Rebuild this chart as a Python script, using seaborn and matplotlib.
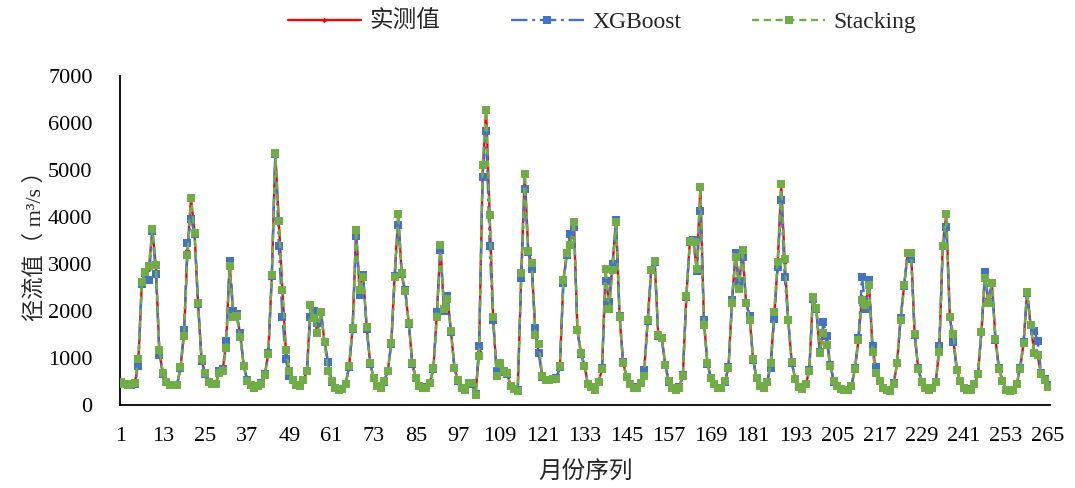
import numpy as np
import pandas as pd
import matplotlib
matplotlib.use("Agg")
import matplotlib.pyplot as plt
import seaborn as sns

# Monthly runoff (m³/s): observed series and two model predictions
observed = [
    490, 460, 430, 440, 460, 900, 2600, 2830, 2900, 3720,
    2950, 1100, 680, 500, 430, 420, 420, 790, 1500, 3300,
    4400, 3680, 2170, 970, 670, 490, 440, 440, 690, 730,
    1300, 3000, 1960, 1920, 1500, 830, 530, 420, 370, 400,
    440, 650, 1090, 2750, 5360, 3910, 2450, 1170, 720, 540,
    420, 400, 540, 720, 2100, 1850, 1550, 1990, 1335, 910,
    510, 370, 330, 350, 440, 830, 1640, 3720, 2450, 2750,
    1670, 890, 580, 400, 370, 510, 720, 1310, 2800, 4070,
    2750, 2400, 1740, 890, 580, 400, 370, 370, 470, 780,
    1960, 3400, 2040, 2290, 1570, 790, 530, 370, 330, 470,
    450, 220, 1150, 4900, 6300, 4080, 1850, 700, 880, 720,
    680, 400, 350, 300, 2750, 4920, 3280, 3000, 1550, 1110,
    615, 540, 540, 560, 560, 830, 2660, 3240, 3550, 3880,
    1590, 1100, 840, 440, 380, 330, 490, 760, 2850, 2100,
    3000, 3930, 1880, 900, 600, 440, 370, 370, 470, 720,
    1810, 2870, 3070, 1480, 1420, 860, 510, 370, 330, 370,
    615, 2310, 3480, 3500, 2870, 4650, 1800, 890, 580, 440,
    370, 370, 510, 790, 2200, 3200, 2550, 3300, 2180, 1900,
    970, 580, 400, 370, 490, 850, 1900, 3000, 4700, 3050,
    1810, 910, 560, 390, 350, 440, 720, 2290, 2060, 1100,
    1600, 1350, 830, 510, 400, 350, 330, 330, 400, 770,
    1390, 2300, 2130, 2600, 1200, 750, 510, 370, 310, 300,
    440, 890, 1850, 2550, 3240, 3230, 1510, 770, 490, 370,
    330, 370, 490, 1180, 3400, 4060, 1870, 1400, 740, 510,
    370, 330, 330, 440, 650, 1550, 2750, 2170, 2590, 1400,
    770, 510, 330, 300, 330, 440, 770, 1320, 2410, 1710,
    1150, 1050, 650, 540, 400,
]

xgboost = [
    470, 440, 420, 430, 450, 830, 2580, 2820, 2660, 3700,
    2780, 1070, 660, 490, 430, 420, 420, 780, 1590, 3440,
    3950, 3650, 2150, 940, 650, 480, 440, 450, 720, 760,
    1360, 3060, 2010, 1940, 1530, 840, 540, 420, 380, 400,
    460, 660, 1100, 2740, 5340, 3390, 1880, 970, 615, 530,
    420, 400, 530, 720, 1880, 2010, 1750, 1990, 1340, 910,
    500, 370, 330, 350, 450, 800, 1620, 3600, 2350, 2770,
    1620, 880, 570, 400, 370, 500, 730, 1300, 2750, 3830,
    2780, 2450, 1720, 870, 570, 400, 370, 380, 460, 760,
    1990, 3300, 2000, 2320, 1560, 780, 520, 370, 330, 460,
    450, 240, 1250, 4850, 5840, 3380, 1800, 720, 860, 700,
    660, 400, 350, 320, 2700, 4600, 3250, 2890, 1640, 1100,
    600, 530, 540, 550, 570, 800, 2600, 3200, 3650, 3790,
    1600, 1090, 830, 440, 380, 330, 480, 780, 2650, 2200,
    3010, 3940, 1900, 920, 600, 440, 370, 380, 470, 750,
    1790, 2880, 3050, 1470, 1430, 850, 500, 370, 330, 380,
    640, 2300, 3470, 3510, 2850, 4140, 1810, 880, 570, 440,
    370, 370, 500, 800, 2230, 3230, 2650, 3150, 2170, 1900,
    960, 570, 400, 370, 500, 790, 1830, 2940, 4370, 2720,
    1800, 900, 560, 390, 350, 450, 740, 2250, 2040, 1120,
    1760, 1460, 850, 500, 400, 350, 330, 330, 410, 790,
    1420, 2730, 2050, 2660, 1260, 800, 510, 370, 320, 300,
    460, 900, 1860, 2530, 3230, 3100, 1500, 780, 490, 370,
    330, 370, 500, 1250, 3380, 3790, 1880, 1350, 750, 510,
    370, 330, 340, 450, 670, 1560, 2840, 2200, 2600, 1380,
    780, 510, 330, 300, 330, 450, 790, 1340, 2380, 1700,
    1580, 1370, 680, 560, 420,
]

stacking = [
    480, 450, 430, 440, 460, 990, 2620, 2830, 2950, 3740,
    2980, 1180, 690, 500, 430, 420, 420, 800, 1460, 3190,
    4410, 3670, 2170, 990, 680, 490, 440, 440, 690, 720,
    1210, 2960, 1880, 1900, 1440, 830, 520, 420, 370, 400,
    440, 640, 1080, 2760, 5370, 3910, 2450, 1170, 720, 540,
    420, 400, 540, 720, 2120, 1850, 1530, 1990, 1340, 720,
    510, 370, 330, 350, 440, 840, 1650, 3730, 2450, 2730,
    1670, 890, 580, 400, 370, 510, 720, 1310, 2720, 4070,
    2800, 2430, 1740, 890, 580, 400, 370, 370, 470, 780,
    1880, 3400, 2040, 2250, 1570, 790, 530, 370, 330, 470,
    470, 210, 1050, 5100, 6280, 4040, 1880, 620, 890, 720,
    680, 400, 350, 300, 2800, 4920, 3280, 3030, 1490, 1300,
    615, 540, 540, 560, 560, 830, 2660, 3240, 3400, 3900,
    1590, 1110, 840, 440, 380, 330, 490, 760, 2900, 2050,
    2870, 3900, 1880, 900, 600, 440, 370, 370, 470, 615,
    1810, 2870, 3070, 1480, 1420, 860, 510, 370, 330, 370,
    615, 2310, 3490, 3480, 2890, 4650, 1710, 890, 580, 440,
    370, 370, 510, 790, 2180, 3150, 2480, 3310, 2180, 1810,
    970, 580, 400, 370, 490, 900, 1970, 3050, 4710, 3100,
    1810, 910, 560, 390, 350, 440, 720, 2290, 2060, 1110,
    1530, 1270, 830, 510, 400, 350, 330, 330, 400, 770,
    1390, 2240, 2130, 2550, 1120, 680, 510, 370, 310, 300,
    440, 890, 1800, 2550, 3240, 3230, 1510, 770, 490, 370,
    330, 370, 490, 1120, 3380, 4060, 1870, 1520, 740, 510,
    370, 330, 330, 440, 650, 1550, 2700, 2170, 2590, 1400,
    770, 510, 330, 300, 330, 440, 770, 1320, 2400, 1700,
    1110, 1070, 650, 540, 380,
]

months = list(range(1, len(observed) + 1))
x_ticks = list(range(1, 266, 12))
y_ticks = list(range(0, 7001, 1000))

df = pd.DataFrame({"月份": months, "实测值": observed,
                   "XGBoost": xgboost, "Stacking": stacking})

sns.set_theme(style="white")
plt.rcParams["font.family"] = ["Liberation Serif", "Noto Sans CJK SC"]
plt.rcParams["axes.unicode_minus"] = False

fig = plt.figure(figsize=(10.75, 4.88), dpi=100)
ax = fig.add_axes([0.112, 0.170, 0.865, 0.674])

sns.lineplot(data=df, x="月份", y="实测值", ax=ax, color="#FF0000",
             linewidth=1.7, marker="D", markersize=2.8, markeredgewidth=0,
             label="实测值", zorder=3)
sns.lineplot(data=df, x="月份", y="XGBoost", ax=ax, color="#4472C4",
             linewidth=1.7, linestyle=(0, (7, 2, 1.2, 2)), marker="s",
             markersize=5.3, markeredgewidth=0, label="XGBoost", zorder=4)
sns.lineplot(data=df, x="月份", y="Stacking", ax=ax, color="#70AD47",
             linewidth=1.7, linestyle=(0, (3, 2)), marker="s",
             markersize=5.3, markeredgewidth=0, label="Stacking", zorder=5)

ax.set_xlim(0.9, 265.6)
ax.set_ylim(0, 7000)
ax.set_xticks(x_ticks)
ax.set_yticks(y_ticks)
ax.tick_params(axis="both", direction="in", length=5, width=1.3,
               labelsize=16, colors="black")
ax.tick_params(axis="x", pad=16)
ax.tick_params(axis="y", pad=20)
for side in ("top", "right"):
    ax.spines[side].set_visible(False)
for side in ("left", "bottom"):
    ax.spines[side].set_color("black")
    ax.spines[side].set_linewidth(1.3)

ax.set_xlabel("月份序列", fontsize=17, labelpad=10)
ax.set_ylabel("径流值（ m³/s ）", fontsize=16, labelpad=2)

ax.legend(loc="center", bbox_to_anchor=(0.56, 0.955), ncol=3,
          bbox_transform=fig.transFigure, frameon=False, fontsize=17,
          handlelength=3.1, columnspacing=3.0, handletextpad=0.35)

fig.savefig("out.png", dpi=100)
